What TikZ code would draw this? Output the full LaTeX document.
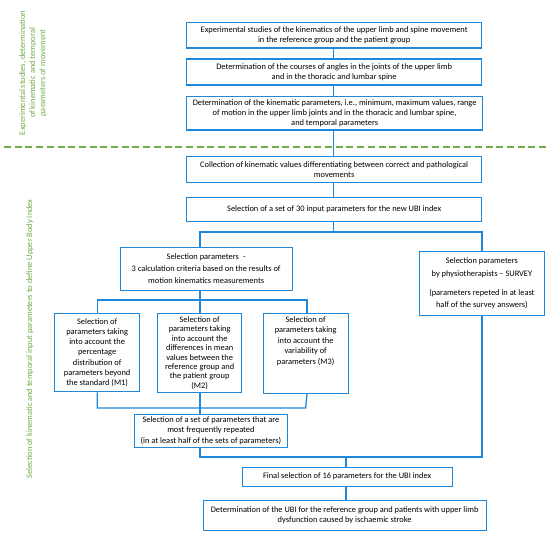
\documentclass[tikz,border=0pt]{standalone}
\usepackage{fontspec}
\setmainfont{Carlito}
\definecolor{bx}{RGB}{30,136,220}
\definecolor{gr}{RGB}{112,173,71}
\begin{document}
\begin{tikzpicture}[x=1bp,y=-1bp,
  box/.style={draw=bx,line width=1.3bp,inner sep=0pt,align=center,
    font=\fontsize{8.4bp}{10.3bp}\selectfont,anchor=north west},
  conn/.style={draw=bx,line width=1.3bp},
  lab/.style={text=gr,align=center,font=\fontsize{8.4bp}{10.2bp}\selectfont,rotate=90}]
\useasboundingbox (0,0) rectangle (550,538);
\node[box,minimum width=295bp,minimum height=25.5bp] (b1) at (186,22)
 {Experimental studies of the kinematics of the upper limb and spine movement\\in the reference group and the patient group};
\node[box,minimum width=295bp,minimum height=26bp] (b2) at (186,58.5)
 {Determination of the courses of angles in the joints of the upper limb\\and in the thoracic and lumbar spine};
\node[box,minimum width=296bp,minimum height=33.5bp] (b3) at (186,96)
 {Determination of the kinematic parameters, i.e., minimum, maximum values, range\\of motion in the upper limb joints and in the thoracic and lumbar spine,\\and temporal parameters};
\node[box,minimum width=295bp,minimum height=26bp] (b4) at (186,156)
 {Collection of kinematic values differentiating between correct and pathological\\movements};
\node[box,minimum width=295bp,minimum height=23.5bp] (b5) at (186,197)
 {Selection of a set of 30 input parameters for the new UBI index};
\node[box,minimum width=172bp,minimum height=42.5bp,font=\fontsize{8.4bp}{11.8bp}\selectfont] (b6) at (119.5,247)
 {Selection parameters\hspace{0.5em}-\\3 calculation criteria based on the results of\\motion kinematics measurements};
\node[box,minimum width=125.5bp,minimum height=63.5bp,font=\fontsize{8.4bp}{12.2bp}\selectfont] (b7) at (418.5,251)
 {Selection parameters\\by physiotherapists -- SURVEY\\[7bp](parameters repeted in at least\\half of the survey answers)};
\node[box,minimum width=85bp,minimum height=78bp,font=\fontsize{8.4bp}{10.2bp}\selectfont] (m1) at (54,313)
 {Selection of\\parameters taking\\into account the\\percentage\\distribution of\\parameters beyond\\the standard (M1)};
\node[box,minimum width=84bp,minimum height=79bp,font=\fontsize{8.4bp}{9.4bp}\selectfont] (m2) at (157,313)
 {Selection of\\parameters taking\\into account the\\differences in mean\\values between the\\reference group and\\the patient group\\(M2)};
\node[box,minimum width=85bp,minimum height=79.5bp] (m3) at (262.5,313) {};
\node[align=center,font=\fontsize{8.4bp}{10.5bp}\selectfont,anchor=north,inner sep=0pt] (m3t) at ([yshift=-1bp]m3.north)
 {\rule{0pt}{8bp}Selection of\\parameters taking\\into account the\\variability of\\parameters (M3)};
\node[box,minimum width=153.5bp,minimum height=33bp] (b8) at (133.5,413.5)
 {Selection of a set of parameters that are\\most frequently repeated\\(in at least half of the sets of parameters)};
\node[box,minimum width=210bp,minimum height=19bp] (b9) at (241.5,466.5)
 {Final selection of 16 parameters for the UBI index};
\node[box,minimum width=283bp,minimum height=29.5bp] (b10) at (202.5,500)
 {Determination of the UBI for the reference group and patients with upper limb\\dysfunction caused by ischaemic stroke};
% connectors
\coordinate (c5) at (333.5,232);
\coordinate (c6) at (200,300);
\coordinate (c8) at (200,457);
\coordinate (c9) at (346,457);
\draw[conn] (b1.south -| 333.5,0) -- (b2.north -| 333.5,0);
\draw[conn] (b2.south -| 333.5,0) -- (b3.north -| 333.5,0);
\draw[conn] (b3.south -| 333.5,0) -- (b4.north -| 333.5,0);
\draw[conn] (b4.south -| 333.5,0) -- (b5.north -| 333.5,0);
\draw[conn] (b5.south -| 333.5,0) -- (c5);
\draw[conn] (b6.north -| 200,0) |- (c5) -| (b7.north);
\draw[conn] (b6.south -| 200,0) -- (c6);
\draw[conn] (m1.north) |- (c6) -| (m3.north -| 307,0);
\draw[conn] (m2.north -| 200,0) -- (c6);
\draw[conn] (m1.south) |- (m3.south |- 0,408) -- (m3.south -| 307,0);
\draw[conn] (m2.south -| 200,0) -- (b8.north -| 200,0);
\draw[conn] (b8.south -| 200,0) |- (c8) -- (c9);
\draw[conn] (b7.south) |- (c9);
\draw[conn] (c9) -- (b9.north -| c9);
\draw[conn] (b9.south -| c9) -- (b10.north -| c9);
% dashed separator
\coordinate (d1) at (4,147);
\coordinate (d2) at (550,147);
\draw[gr,line width=1.8bp,dash pattern=on 7bp off 3.7bp] (d1) -- (d2);
% side labels
\node[lab] (l1) at (33,73) {Experimental studies, determination\\of kinematic and temporal\\parameters of movement};
\node[lab] (l2) at (30,339) {Selection of kinematic and temporal input parameters to define Upper Body Index};
\end{tikzpicture}
\end{document}
